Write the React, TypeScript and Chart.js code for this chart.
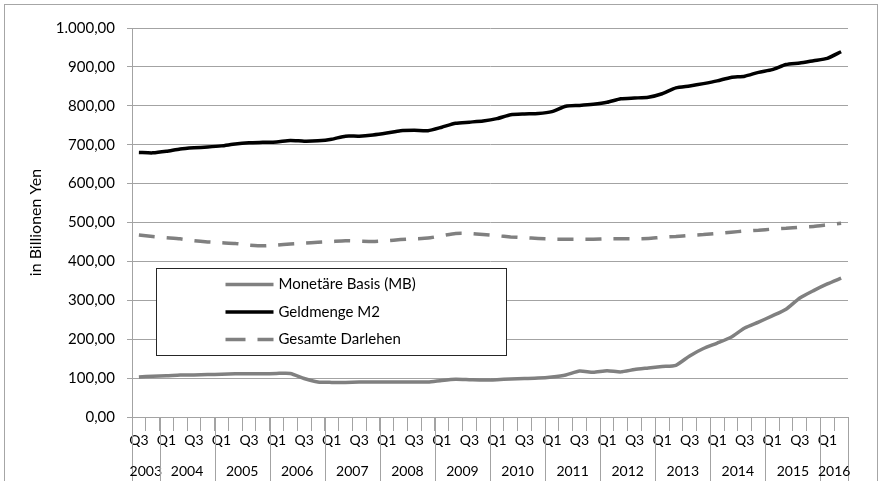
import React, { useEffect, useRef } from "react";
import { Chart, registerables } from "chart.js";

Chart.register(...registerables);

const categories = [
  "Q3 2003", "Q4 2003",
  "Q1 2004", "Q2 2004", "Q3 2004", "Q4 2004",
  "Q1 2005", "Q2 2005", "Q3 2005", "Q4 2005",
  "Q1 2006", "Q2 2006", "Q3 2006", "Q4 2006",
  "Q1 2007", "Q2 2007", "Q3 2007", "Q4 2007",
  "Q1 2008", "Q2 2008", "Q3 2008", "Q4 2008",
  "Q1 2009", "Q2 2009", "Q3 2009", "Q4 2009",
  "Q1 2010", "Q2 2010", "Q3 2010", "Q4 2010",
  "Q1 2011", "Q2 2011", "Q3 2011", "Q4 2011",
  "Q1 2012", "Q2 2012", "Q3 2012", "Q4 2012",
  "Q1 2013", "Q2 2013", "Q3 2013", "Q4 2013",
  "Q1 2014", "Q2 2014", "Q3 2014", "Q4 2014",
  "Q1 2015", "Q2 2015", "Q3 2015", "Q4 2015",
  "Q1 2016", "Q2 2016",
];

const shownQuarters = ["Q1", "Q3"];

const monetaereBasis = [
  103, 105,
  106, 108, 108, 109,
  110, 111, 111, 111,
  112, 112, 99, 90,
  89, 89, 90, 90,
  90, 90, 90, 90,
  94, 97, 96, 95,
  96, 98, 99, 100,
  103, 108, 118, 115,
  119, 116, 122, 126,
  130, 133, 157, 176,
  190, 205, 229, 244,
  260, 277, 306, 325,
  342, 357,
];

const geldmengeM2 = [
  680, 679,
  683, 689, 692, 694,
  697, 702, 705, 706,
  707, 711, 709, 710,
  714, 722, 722, 725,
  730, 736, 737, 736,
  745, 755, 758, 761,
  767, 777, 779, 780,
  785, 799, 801, 804,
  809, 818, 820, 822,
  831, 846, 851, 857,
  864, 873, 876, 886,
  893, 906, 910, 916,
  922, 939,
];

const gesamteDarlehen = [
  468, 464,
  461, 458, 453, 450,
  448, 446, 442, 440,
  442, 445, 447, 449,
  451, 453, 452, 451,
  453, 456, 458, 460,
  466, 472, 472, 469,
  466, 463, 461, 459,
  457, 457, 457, 457,
  458, 458, 458, 459,
  462, 464, 467, 469,
  472, 475, 478, 480,
  483, 485, 488, 490,
  494, 498,
];

const seriesNames = ["Monetäre Basis (MB)", "Geldmenge M2", "Gesamte Darlehen"];
const yTitle = "in Billionen Yen";

const FONT = "Lato, 'Open Sans', sans-serif";
const GRID = "#a3a3a3";
const TEXT = "#000000";
const GRAY_LINE = "#808080";

function formatDe(v: number): string {
  const fixed = Math.abs(v).toFixed(2);
  const [intPart, dec] = fixed.split(".");
  const withDots = intPart.replace(/\B(?=(\d{3})+(?!\d))/g, ".");
  return (v < 0 ? "-" : "") + withDots + "," + dec;
}

const decorPlugin = {
  id: "decor",
  beforeDraw(chart: any) {
    const ctx = chart.ctx;
    ctx.save();
    ctx.fillStyle = "#ffffff";
    ctx.fillRect(0, 0, chart.width, chart.height);
    ctx.strokeStyle = "#a6a6a6";
    ctx.lineWidth = 1;
    ctx.strokeRect(4.5, 4.5, 873, 500);
    ctx.restore();
  },
  afterDraw(chart: any) {
    const ctx = chart.ctx;
    const xs = chart.scales.x;
    const area = chart.chartArea;
    const half = (xs.getPixelForValue(1) - xs.getPixelForValue(0)) / 2;

    const groups: { year: string; first: number; last: number }[] = [];
    categories.forEach((c, i) => {
      const y = c.split(" ")[1];
      const g = groups[groups.length - 1];
      if (!g || g.year !== y) groups.push({ year: y, first: i, last: i });
      else g.last = i;
    });

    ctx.save();
    ctx.strokeStyle = GRID;
    ctx.lineWidth = 1;
    ctx.fillStyle = TEXT;
    ctx.font = `14px ${FONT}`;
    ctx.textAlign = "center";
    ctx.textBaseline = "middle";
    groups.forEach((g, idx) => {
      const left = xs.getPixelForValue(g.first) - half;
      const right = xs.getPixelForValue(g.last) + half;
      const lx = Math.round(left) + 0.5;
      ctx.beginPath();
      ctx.moveTo(lx, area.bottom);
      ctx.lineTo(lx, chart.height);
      ctx.stroke();
      if (idx === groups.length - 1) {
        const rx = Math.round(right) + 0.5;
        ctx.beginPath();
        ctx.moveTo(rx, area.bottom);
        ctx.lineTo(rx, chart.height);
        ctx.stroke();
      }
      ctx.fillText(g.year, (left + right) / 2, area.bottom + 54);
    });

    const bx = Math.round(area.left + 24) + 0.5;
    const by = Math.round(area.top + 240) + 0.5;
    const bw = 350;
    const bh = 87;
    ctx.fillStyle = "#ffffff";
    ctx.fillRect(bx, by, bw, bh);
    ctx.strokeStyle = "#262626";
    ctx.lineWidth = 1;
    ctx.strokeRect(bx, by, bw, bh);

    const ds = chart.data.datasets;
    ds.forEach((d: any, i: number) => {
      const ry = by + 16 + i * 27.5;
      ctx.beginPath();
      ctx.strokeStyle = d.borderColor;
      ctx.lineWidth = d.borderWidth;
      ctx.setLineDash(d.borderDash && d.borderDash.length ? [20, 12] : []);
      ctx.moveTo(bx + 69, ry);
      ctx.lineTo(bx + 117, ry);
      ctx.stroke();
      ctx.setLineDash([]);
      ctx.fillStyle = TEXT;
      ctx.font = `15px ${FONT}`;
      ctx.textAlign = "left";
      ctx.textBaseline = "middle";
      ctx.fillText(d.label, bx + 122, ry);
    });
    ctx.restore();
  },
};

export default function App() {
  const canvasRef = useRef<HTMLCanvasElement | null>(null);

  useEffect(() => {
    const canvas = canvasRef.current;
    if (!canvas) return;
    const chart = new Chart(canvas, {
      type: "line",
      data: {
        labels: categories,
        datasets: [
          {
            label: seriesNames[0],
            data: monetaereBasis,
            borderColor: GRAY_LINE,
            borderWidth: 3.5,
            pointRadius: 0,
            tension: 0.2,
            fill: false,
          },
          {
            label: seriesNames[1],
            data: geldmengeM2,
            borderColor: "#000000",
            borderWidth: 3.5,
            pointRadius: 0,
            tension: 0.2,
            fill: false,
          },
          {
            label: seriesNames[2],
            data: gesamteDarlehen,
            borderColor: GRAY_LINE,
            borderWidth: 3.5,
            borderDash: [16, 12],
            pointRadius: 0,
            tension: 0.2,
            fill: false,
          },
        ],
      },
      options: {
        responsive: false,
        animation: false,
        layout: { padding: { top: 28, right: 34, bottom: 0, left: 0 } },
        plugins: {
          legend: { display: false },
          tooltip: { enabled: false },
        },
        scales: {
          x: {
            type: "category",
            offset: true,
            grid: {
              display: true,
              drawOnChartArea: false,
              drawTicks: true,
              tickLength: 14,
              color: GRID,
              offset: true,
            },
            border: { display: true, color: GRID },
            ticks: {
              autoSkip: false,
              maxRotation: 0,
              minRotation: 0,
              padding: 1,
              color: TEXT,
              font: { family: FONT, size: 14 },
              callback: (_v: any, i: number) => {
                const q = categories[i].split(" ")[0];
                return shownQuarters.includes(q) ? q : "";
              },
            },
            afterFit: (s: any) => {
              s.height = 64;
            },
          },
          y: {
            min: 0,
            max: 1000,
            ticks: {
              stepSize: 100,
              padding: 12,
              color: TEXT,
              font: { family: FONT, size: 15 },
              callback: (v: any) => formatDe(Number(v)),
            },
            grid: { color: GRID, tickLength: 5 },
            border: { display: true, color: GRID },
            title: {
              display: true,
              text: yTitle,
              color: TEXT,
              font: { family: FONT, size: 16 },
              padding: { top: 26, bottom: 0 },
            },
            afterFit: (s: any) => {
              s.width = 132;
            },
          },
        },
      },
      plugins: [decorPlugin],
    });
    return () => chart.destroy();
  }, []);

  return (
    <div style={{ position: "fixed", left: 0, top: 0, width: 882, height: 481, background: "#fff" }}>
      <canvas ref={canvasRef} width={882} height={481} style={{ display: "block" }} />
    </div>
  );
}
